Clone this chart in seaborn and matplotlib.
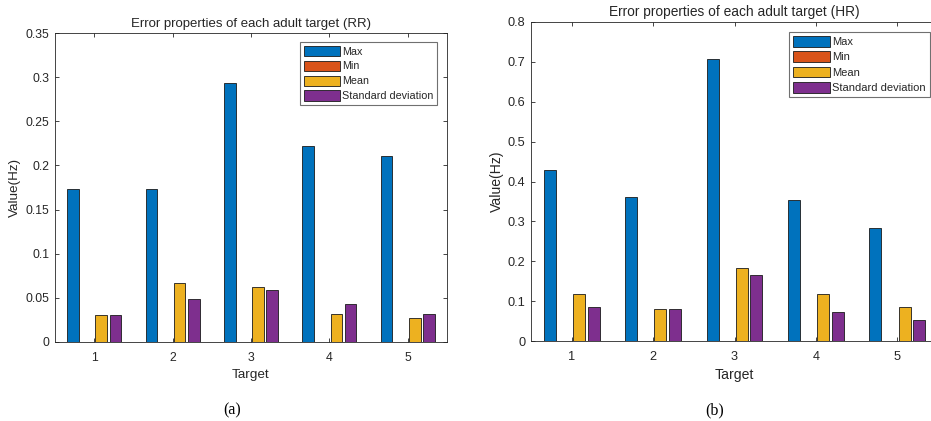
import numpy as np
import pandas as pd
import matplotlib
matplotlib.use("Agg")
import matplotlib.pyplot as plt
import seaborn as sns

targets = ["1", "2", "3", "4", "5"]
metrics = ["Max", "Min", "Mean", "Standard deviation"]
colors = ["#0072BD", "#D95319", "#EDB120", "#7E2F8E"]

rr_max = [0.173, 0.173, 0.293, 0.222, 0.211]
rr_min = [0.0, 0.0, 0.0, 0.0, 0.0]
rr_mean = [0.0305, 0.067, 0.0618, 0.0313, 0.0271]
rr_std = [0.0305, 0.049, 0.0588, 0.043, 0.0313]

hr_max = [0.430, 0.361, 0.708, 0.354, 0.283]
hr_min = [0.0, 0.0, 0.0, 0.0, 0.0]
hr_mean = [0.117, 0.081, 0.183, 0.119, 0.085]
hr_std = [0.085, 0.079, 0.166, 0.072, 0.053]

rr_ticks = [0, 0.05, 0.1, 0.15, 0.2, 0.25, 0.3, 0.35]
rr_ticklabels = ["0", "0.05", "0.1", "0.15", "0.2", "0.25", "0.3", "0.35"]
hr_ticks = [0, 0.1, 0.2, 0.3, 0.4, 0.5, 0.6, 0.7, 0.8]
hr_ticklabels = ["0", "0.1", "0.2", "0.3", "0.4", "0.5", "0.6", "0.7", "0.8"]


def make_df(series):
    rows = []
    for m, vals in zip(metrics, series):
        for t, v in zip(targets, vals):
            rows.append({"Target": t, "Metric": m, "Value": v})
    return pd.DataFrame(rows)


sns.set_theme(style="white")
plt.rcParams["font.family"] = ["Liberation Sans", "DejaVu Sans"]

fig = plt.figure(figsize=(9.31, 4.21), dpi=100)
W, H = 931.0, 421.0
axL = fig.add_axes([55 / W, 1 - 342 / H, 392 / W, 309 / H])
axR = fig.add_axes([531 / W, 1 - 341 / H, 407 / W, 319 / H])

spine_c = "#262626"
text_c = "#262626"

configs = [
    (axL, [rr_max, rr_min, rr_mean, rr_std], "Error properties of each adult target (RR)",
     rr_ticks, rr_ticklabels, 0.35, (0.974, 0.971), 1.0),
    (axR, [hr_max, hr_min, hr_mean, hr_std], "Error properties of each adult target (HR)",
     hr_ticks, hr_ticklabels, 0.8, (0.98, 0.969), 1.04),
]

for ax, series, title, yt, ytl, ymax, anchor, s in configs:
    df = make_df(series)
    sns.barplot(data=df, x="Target", y="Value", hue="Metric", hue_order=metrics,
                palette=colors, width=0.72, gap=0.18, edgecolor="#1a1a1a",
                linewidth=0.6, saturation=1, ax=ax)
    ax.set_xlim(-0.5, 4.5)
    ax.set_ylim(0, ymax)
    ax.set_yticks(yt)
    ax.set_yticklabels(ytl)
    ax.set_title(title, fontsize=9.5 * s, color=text_c, pad=4.5)
    ax.set_xlabel("Target", fontsize=9.7 * s, color=text_c, labelpad=4)
    ax.set_ylabel("Value(Hz)", fontsize=9.7 * s, color=text_c, labelpad=3)
    ax.tick_params(axis="y", pad=4)
    ax.tick_params(axis="x", pad=7)
    ax.tick_params(axis="both", direction="in", length=3, width=0.6, colors=spine_c,
                   labelsize=8.8 * s, top=True, right=True, bottom=True, left=True)
    for sp in ax.spines.values():
        sp.set_color(spine_c)
        sp.set_linewidth(0.6)
        sp.set_visible(True)
    handles, labels = ax.get_legend_handles_labels()
    if ax.get_legend() is not None:
        ax.get_legend().remove()
    leg = ax.legend(handles, labels, loc="upper right", bbox_to_anchor=anchor,
                    borderaxespad=0, fontsize=7.75 * s, handlelength=3.3, handleheight=1.1,
                    handletextpad=0.2, labelspacing=0.38, borderpad=0.35,
                    fancybox=False, framealpha=1, edgecolor="#707070")
    leg.get_frame().set_linewidth(0.8)

fig.text(232 / W, 1 - 410 / H, "(a)", ha="center", va="center", fontsize=11.5,
         family=["Liberation Serif", "DejaVu Serif"], color="black")
fig.text(715 / W, 1 - 410 / H, "(b)", ha="center", va="center", fontsize=11.5,
         family=["Liberation Serif", "DejaVu Serif"], color="black")

fig.savefig("out.png", dpi=100)
